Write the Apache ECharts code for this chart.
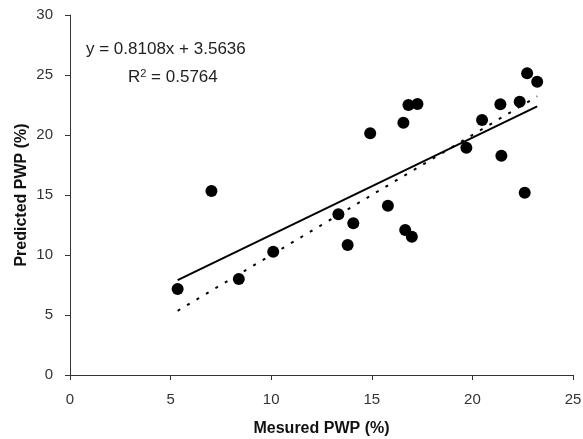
<!DOCTYPE html>
<html>
<head>
<meta charset="utf-8">
<script src="https://cdn.jsdelivr.net/npm/echarts@6/dist/echarts.min.js"></script>
<style>html,body{margin:0;padding:0;background:#fff;}#c{width:583px;height:439px;}</style>
</head>
<body>
<div id="c"></div>
<script>
// Measured PWP (%)
var measured = [5.35, 8.39, 10.1, 7.03, 13.34, 14.08, 13.8, 14.92, 16.57, 16.82, 17.27, 15.8, 16.66, 16.99, 19.70, 20.48, 21.39, 21.44, 22.35, 22.6, 22.72, 23.22];
// Predicted PWP (%)
var predicted = [7.17, 8.0, 10.28, 15.33, 13.39, 12.64, 10.83, 20.14, 21.03, 22.5, 22.58, 14.11, 12.08, 11.53, 18.94, 21.25, 22.56, 18.28, 22.78, 15.19, 25.14, 24.44];
// Linear trend line endpoints (y = 0.8108x + 3.5636)
var trendX = [5.35, 23.22];
var trendY = [7.9, 22.39];
// 1:1 line endpoints
var oneX = [5.35, 23.22];
var oneY = [5.35, 23.22];
var xTicks = [0, 5, 10, 15, 20, 25];
var yTicks = [0, 5, 10, 15, 20, 25, 30];
var eqText = 'y = 0.8108x + 3.5636';
var r2Text = 'R{s|2} = 0.5764';

function pairs(a, b) { return a.map(function (v, i) { return [v, b[i]]; }); }

var chart = echarts.init(document.getElementById('c'), null, {renderer: 'canvas'});
var font = 'Liberation Sans, Arial, sans-serif';
chart.setOption({
  animation: false,
  backgroundColor: '#fff',
  grid: {left: 70, right: 10, top: 15, bottom: 64, containLabel: false, outerBoundsMode: 'none'},
  xAxis: {
    type: 'value', min: xTicks[0], max: xTicks[xTicks.length - 1], interval: 5,
    name: 'Mesured PWP (%)', nameLocation: 'middle', nameGap: 46, nameMoveOverlap: false,
    nameTextStyle: {fontFamily: font, fontSize: 16, fontWeight: 'bold', color: '#111'},
    axisLine: {lineStyle: {color: '#333', width: 1}},
    axisTick: {show: true, inside: false, length: 5, lineStyle: {color: '#333'}},
    axisLabel: {fontFamily: font, fontSize: 15, color: '#333', margin: 17},
    splitLine: {show: false}
  },
  yAxis: {
    type: 'value', min: yTicks[0], max: yTicks[yTicks.length - 1], interval: 5,
    name: 'Predicted PWP (%)', nameLocation: 'middle', nameGap: 40, nameMoveOverlap: false,
    nameTextStyle: {fontFamily: font, fontSize: 16, fontWeight: 'bold', color: '#111'},
    axisLine: {show: true, lineStyle: {color: '#333', width: 1}},
    axisTick: {show: true, inside: false, length: 5, lineStyle: {color: '#333'}},
    axisLabel: {fontFamily: font, fontSize: 15, color: '#333', margin: 17},
    splitLine: {show: false}
  },
  graphic: [
    {type: 'text', left: 86, top: 41, style: {text: eqText, fontFamily: font, fontSize: 17, fill: '#222'}},
    {type: 'text', left: 128, top: 68, style: {text: r2Text, fontFamily: font, fontSize: 17, fill: '#222',
      rich: {s: {fontSize: 11, verticalAlign: 'top', padding: [0, 0, 8, 0], fontFamily: font, fill: '#222'}}}}
  ],
  series: [
    {type: 'line', data: pairs(oneX, oneY), symbol: 'none', silent: true, z: 1,
      lineStyle: {color: '#000', width: 2, type: [3, 8]}},
    {type: 'line', data: pairs(trendX, trendY), symbol: 'none', silent: true, z: 2,
      lineStyle: {color: '#000', width: 2}},
    {type: 'scatter', data: pairs(measured, predicted), symbol: 'circle', symbolSize: 12, z: 3,
      itemStyle: {color: '#000', opacity: 1}}
  ]
});
</script>
</body>
</html>
